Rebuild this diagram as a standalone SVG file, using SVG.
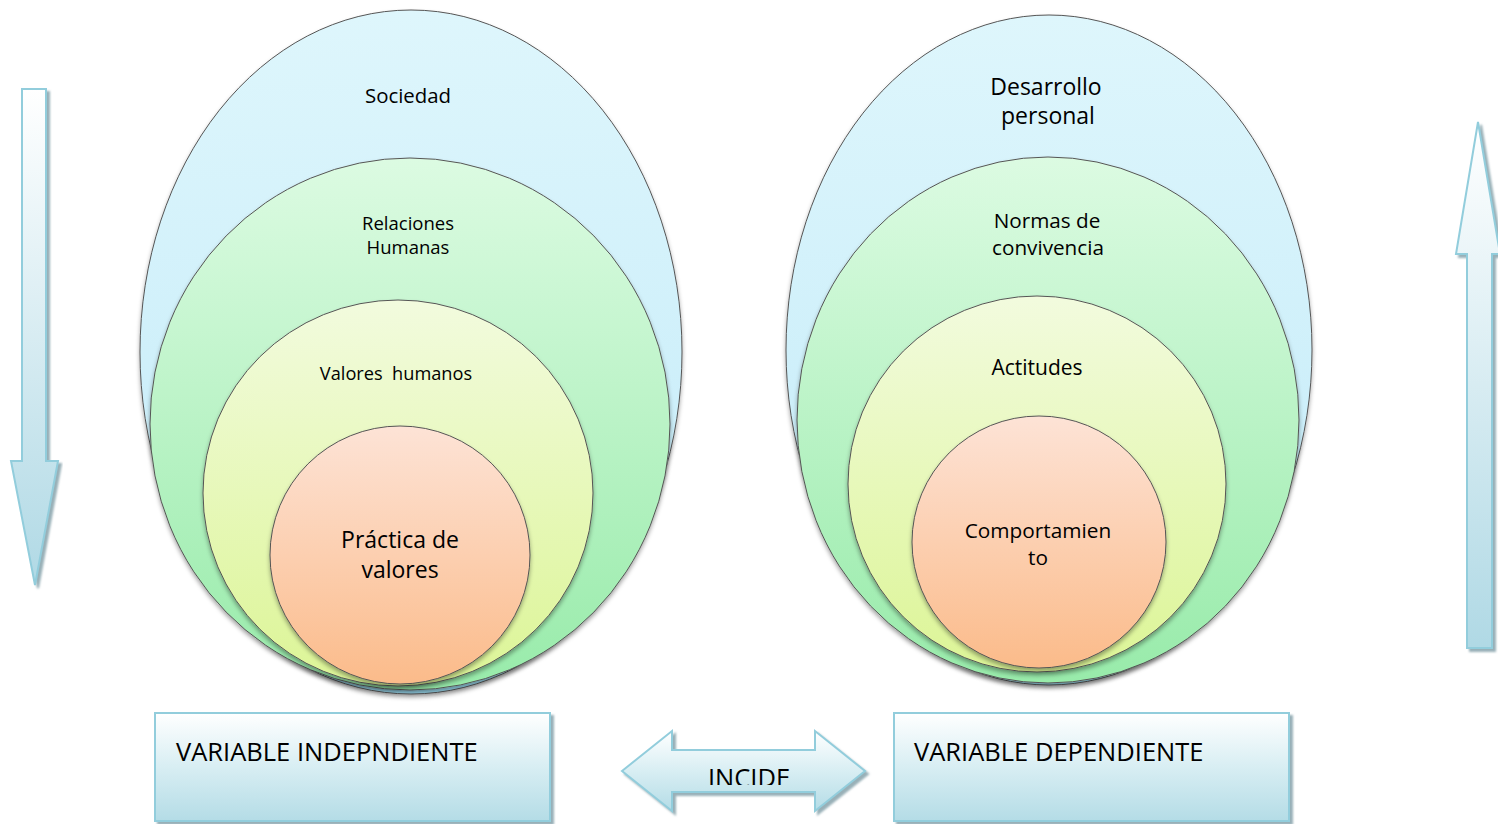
<svg xmlns="http://www.w3.org/2000/svg" width="1498" height="824" viewBox="0 0 1498 824">
<style>
.lbl{font-family:"Open Sans","Liberation Sans",sans-serif;fill:#000;text-anchor:middle}
.ell{stroke:#555;stroke-width:1;filter:url(#sh)}
.box{stroke:#92CDDC;stroke-width:2;fill:url(#gBox);filter:url(#sh2)}
.arr{stroke:#92CDDC;stroke-width:2;filter:url(#sh2)}
.boxt{font-family:"Open Sans","Liberation Sans",sans-serif;font-size:25.5px;fill:#000}
</style>
<defs>
<linearGradient id="gBlue" x1="0" y1="0" x2="0" y2="1"><stop offset="0" stop-color="#DEF6FC"/><stop offset="0.6" stop-color="#CDEFFA"/><stop offset="1" stop-color="#9AD9EE"/></linearGradient>
<linearGradient id="gGreen" x1="0" y1="0" x2="0" y2="1"><stop offset="0" stop-color="#DCFBE2"/><stop offset="1" stop-color="#98EBAA"/></linearGradient>
<linearGradient id="gYel" x1="0" y1="0" x2="0" y2="1"><stop offset="0" stop-color="#F2FBDE"/><stop offset="1" stop-color="#DCF596"/></linearGradient>
<linearGradient id="gOr" x1="0" y1="0" x2="0" y2="1"><stop offset="0" stop-color="#FDE3D6"/><stop offset="1" stop-color="#FBBB8A"/></linearGradient>
<linearGradient id="gBox" x1="0" y1="0" x2="0" y2="1"><stop offset="0" stop-color="#FFFFFF"/><stop offset="0.5" stop-color="#D8EEF3"/><stop offset="1" stop-color="#B4DCE6"/></linearGradient>
<linearGradient id="gArr" x1="0" y1="0" x2="0" y2="1"><stop offset="0" stop-color="#FFFFFF"/><stop offset="1" stop-color="#B0D9E5"/></linearGradient>
<filter id="sh" x="-10%" y="-10%" width="120%" height="125%"><feDropShadow dx="0" dy="3" stdDeviation="2" flood-color="#000" flood-opacity="0.35"/></filter>
<filter id="sh2" x="-10%" y="-10%" width="120%" height="120%"><feDropShadow dx="3" dy="3" stdDeviation="0.8" flood-color="#7F9CA5" flood-opacity="0.8"/></filter>
<clipPath id="incClip"><rect x="680" y="750" width="140" height="35"/></clipPath>
</defs>
<rect width="1498" height="824" fill="#fff"/>

<g id="left-group">
<g id="sociedad"><ellipse class="ell" cx="411" cy="352" rx="271" ry="342" fill="url(#gBlue)"/><text class="lbl" x="408" y="103" font-size="20.4">Sociedad</text></g>
<g id="relaciones"><ellipse class="ell" cx="410" cy="424" rx="260" ry="266" fill="url(#gGreen)"/><text class="lbl" x="408" y="230" font-size="18.5">Relaciones</text><text class="lbl" x="408" y="254" font-size="18.5">Humanas</text></g>
<g id="valores-humanos"><ellipse class="ell" cx="398" cy="493" rx="195" ry="193" fill="url(#gYel)"/><text class="lbl" x="396" y="380" font-size="18.2" xml:space="preserve">Valores  humanos</text></g>
<g id="practica"><ellipse class="ell" cx="400" cy="555" rx="130" ry="129" fill="url(#gOr)"/><text class="lbl" x="400" y="548" font-size="23">Práctica de</text><text class="lbl" x="400" y="578" font-size="23">valores</text></g>
</g>

<g id="right-group">
<g id="desarrollo"><ellipse class="ell" cx="1049" cy="350" rx="263" ry="335" fill="url(#gBlue)"/><text class="lbl" x="1046" y="95" font-size="23">Desarrollo</text><text class="lbl" x="1048" y="124" font-size="23">personal</text></g>
<g id="normas"><ellipse class="ell" cx="1048" cy="420" rx="251" ry="263" fill="url(#gGreen)"/><text class="lbl" x="1047" y="228" font-size="20.7">Normas de</text><text class="lbl" x="1048" y="255" font-size="20.7">convivencia</text></g>
<g id="actitudes"><ellipse class="ell" cx="1037" cy="484" rx="189" ry="188" fill="url(#gYel)"/><text class="lbl" x="1037" y="375" font-size="21">Actitudes</text></g>
<g id="comportamiento"><ellipse class="ell" cx="1039" cy="542" rx="127" ry="126" fill="url(#gOr)"/><text class="lbl" x="1038" y="538" font-size="20.8">Comportamien</text><text class="lbl" x="1038" y="565" font-size="20.8">to</text></g>
</g>

<g id="var-indep"><rect class="box" x="155" y="713" width="395" height="108"/><text class="boxt" x="176" y="761">VARIABLE INDEPNDIENTE</text></g>
<g id="var-dep"><rect class="box" x="894" y="713" width="395" height="108"/><text class="boxt" x="914" y="761">VARIABLE DEPENDIENTE</text></g>

<g id="connectors">
<path id="incide-arrow" class="arr" fill="url(#gBox)" d="M622,771 L672,731 L672,750 L815,750 L815,731 L865,771 L815,811 L815,792 L672,792 L672,811 Z"/>
<text class="boxt" x="749" y="787" text-anchor="middle" font-size="23" clip-path="url(#incClip)">INCIDE</text>
<path id="down-arrow" class="arr" fill="url(#gArr)" d="M22,89 L46,89 L46,461 L58,461 L35,585 L11,461 L22,461 Z"/>
<path id="up-arrow" class="arr" fill="url(#gArr)" d="M1478,122 L1500,254 L1492,254 L1492,648 L1467,648 L1467,254 L1456,254 Z"/>
</g>
</svg>
